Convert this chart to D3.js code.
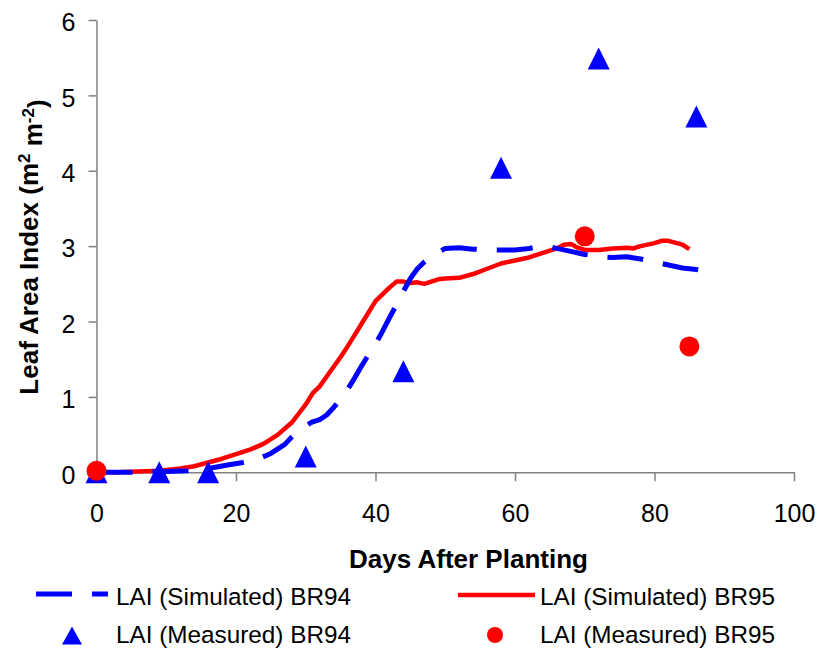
<!DOCTYPE html>
<html>
<head>
<meta charset="utf-8">
<script src="https://cdn.jsdelivr.net/npm/d3@7"></script>
<style>
  html, body { margin: 0; padding: 0; background: #fff; }
  svg { display: block; font-family: "Liberation Sans", Arial, sans-serif; }
</style>
</head>
<body>
<svg id="chart" width="821" height="650"></svg>
<script>
// ---- data ----
const xTicks = [0, 20, 40, 60, 80, 100];
const yTicks = [0, 1, 2, 3, 4, 5, 6];

const br94SimDays = [0,5,10,13,16,19,21,23,25,27,28,29,30,31,32,33,34,35,36,37,38,39,40,41,42,43,44,45,46,47,48,49,50,52,54,56,58,60,62,64,65,66,68,70,72,74,76,78,80,82,84,86,87];
const br94SimLAI  = [0.00,0.00,0.01,0.02,0.05,0.10,0.13,0.17,0.25,0.37,0.47,0.55,0.62,0.67,0.70,0.76,0.86,0.97,1.10,1.25,1.41,1.56,1.70,1.87,2.05,2.22,2.40,2.57,2.70,2.79,2.86,2.92,2.97,2.98,2.96,2.95,2.95,2.95,2.97,3.00,2.99,2.97,2.93,2.89,2.86,2.85,2.86,2.83,2.79,2.75,2.71,2.69,2.67];

const br95SimDays = [0,3,6,9,12,14,16,18,20,22,24,26,28,29,30,31,32,33,34,35,36,37,38,39,40,41,42,43,44,45,46,47,48,49,50,52,54,56,58,60,62,64,66,67,68,69,70,72,74,76,77,78,80,81,82,84,85];
const br95SimLAI  = [0.00,0.00,0.01,0.02,0.05,0.08,0.13,0.18,0.24,0.30,0.38,0.50,0.66,0.78,0.90,1.05,1.14,1.27,1.40,1.53,1.67,1.82,1.97,2.12,2.27,2.36,2.45,2.53,2.53,2.51,2.52,2.50,2.53,2.56,2.57,2.58,2.63,2.70,2.77,2.81,2.85,2.91,2.97,3.02,3.03,2.98,2.95,2.95,2.97,2.98,2.97,3.00,3.04,3.07,3.07,3.02,2.96];

const br94MeasDays = [0, 9, 16, 30, 44, 58, 72, 86];
const br94MeasLAI  = [0, 0, 0, 0.21, 1.34, 4.04, 5.49, 4.72];

const br95MeasDays = [0, 70, 85];
const br95MeasLAI  = [0.02, 3.13, 1.67];

const legendLabels = ["LAI (Simulated) BR94", "LAI (Simulated) BR95", "LAI (Measured) BR94", "LAI (Measured) BR95"];

// ---- layout ----
const svg = d3.select("#chart");
const x = d3.scaleLinear().domain([0, 100]).range([96.5, 794]);
const y = d3.scaleLinear().domain([0, 6]).range([472.3, 20]);
const axisColor = "#808080";
const BLUE = "#0000ff", RED = "#ff0000";

// axes
const gx = svg.append("g").attr("transform", `translate(0,${y(0)})`)
  .call(d3.axisBottom(x).tickValues(xTicks).tickFormat(d3.format("d"))
    .tickSize(9).tickSizeOuter(0).tickPadding(23));
const gy = svg.append("g").attr("transform", `translate(${x(0)},0)`)
  .call(d3.axisLeft(y).tickValues(yTicks).tickFormat(d3.format("d"))
    .tickSize(8).tickSizeOuter(0).tickPadding(13));
[gx, gy].forEach(g => {
  g.select(".domain").attr("stroke", axisColor).attr("stroke-width", 1.5);
  g.selectAll(".tick line").attr("stroke", axisColor).attr("stroke-width", 1.5);
  g.selectAll(".tick text").attr("fill", "#000").style("font-size", "25px")
    .style("font-family", "'Liberation Sans', Arial, sans-serif");
});
gy.selectAll(".tick text").attr("dy", "0.43em");

// axis titles
svg.append("text").attr("x", 468.5).attr("y", 568)
  .attr("text-anchor", "middle").style("font-size", "26px").style("font-weight", "bold")
  .text("Days After Planting");

const yt = svg.append("text").attr("transform", "translate(38,247) rotate(-90)")
  .attr("text-anchor", "middle").style("font-size", "26px").style("font-weight", "bold");
yt.append("tspan").text("Leaf Area Index (m");
yt.append("tspan").attr("dy", "-0.45em").style("font-size", "17px").text("2");
yt.append("tspan").attr("dy", "0.45em").text(" m");
yt.append("tspan").attr("dy", "-0.45em").style("font-size", "17px").text("-2");
yt.append("tspan").attr("dy", "0.45em").text(")");

// lines
const line = d3.line().x(d => x(d[0])).y(d => y(d[1]));
svg.append("path").datum(d3.zip(br95SimDays, br95SimLAI))
  .attr("d", line).attr("fill", "none").attr("stroke", RED).attr("stroke-width", 4.5)
  .attr("stroke-linejoin", "round");
svg.append("path").datum(d3.zip(br94SimDays, br94SimLAI))
  .attr("d", line).attr("fill", "none").attr("stroke", BLUE).attr("stroke-width", 5)
  .attr("stroke-dasharray", "36,20").attr("stroke-linejoin", "round");

// markers
const tri = "M0,-11L11,11L-11,11Z";
svg.append("g").selectAll("path").data(d3.zip(br94MeasDays, br94MeasLAI)).join("path")
  .attr("d", tri).attr("fill", BLUE)
  .attr("transform", d => `translate(${x(d[0])},${y(d[1])})`);
svg.append("g").selectAll("circle").data(d3.zip(br95MeasDays, br95MeasLAI)).join("circle")
  .attr("cx", d => x(d[0])).attr("cy", d => y(d[1])).attr("r", 10).attr("fill", RED);

// legend
const lg = svg.append("g").style("font-size", "24.3px");
lg.append("line").attr("x1", 36).attr("x2", 108).attr("y1", 594).attr("y2", 594)
  .attr("stroke", BLUE).attr("stroke-width", 5).attr("stroke-dasharray", "36,20");
lg.append("text").attr("x", 116).attr("y", 605).text(legendLabels[0]);
lg.append("line").attr("x1", 458).attr("x2", 535).attr("y1", 595).attr("y2", 595)
  .attr("stroke", RED).attr("stroke-width", 4.5);
lg.append("text").attr("x", 540).attr("y", 605).text(legendLabels[1]);
lg.append("path").attr("d", "M0,-9L10,9L-10,9Z").attr("fill", BLUE)
  .attr("transform", "translate(72,635.5)");
lg.append("text").attr("x", 116).attr("y", 643).text(legendLabels[2]);
lg.append("circle").attr("cx", 495).attr("cy", 635).attr("r", 8).attr("fill", RED);
lg.append("text").attr("x", 540).attr("y", 643).text(legendLabels[3]);
</script>
</body>
</html>
